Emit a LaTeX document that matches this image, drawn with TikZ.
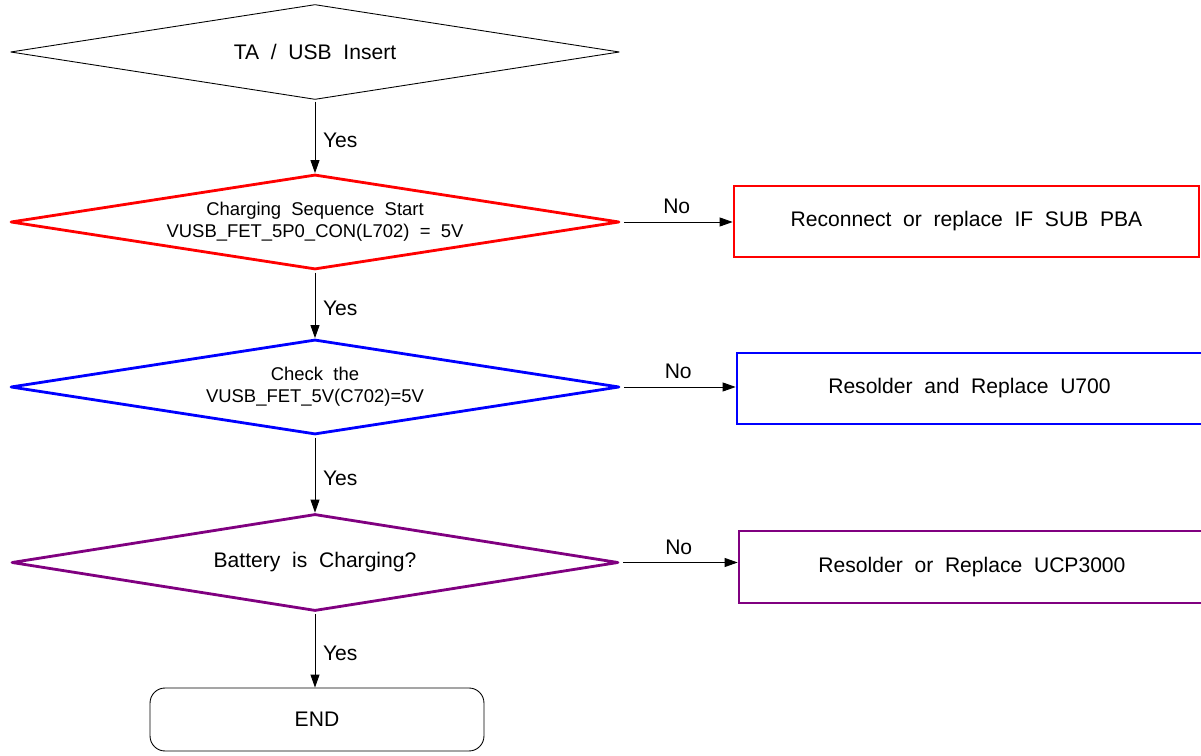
\documentclass[tikz,border=0pt]{standalone}
\usepackage{fontspec}
\setmainfont{Liberation Sans}[WordSpace=2]
\usepackage{xcolor}
\usetikzlibrary{shapes.geometric,arrows.meta}

\definecolor{chkred}{RGB}{255,0,0}
\definecolor{chkblue}{RGB}{0,0,255}
\definecolor{chkpurple}{RGB}{128,0,128}

\tikzset{
    decision/.style={draw,diamond,inner sep=0pt,aspect=6.41,minimum width=12.18cm,minimum height=1.9cm,line width=1.6pt,line join=round},
    fixbox/.style={draw,rectangle,inner sep=0pt,minimum height=1.42cm,line width=1.6pt},
    flow/.style={-{Triangle[length=0.26cm,width=0.18cm]},line width=0.5pt}
}

\begin{document}
\begin{tikzpicture}[x=0.02cm,y=-0.02cm,font=\fontsize{12}{14}\selectfont]
    \clip (0,0) rectangle (1201,756);

    \node[decision,line width=0.5pt] (insert) at (315,52) {TA / USB Insert};
    \node[decision,chkred,text=black,font=\fontsize{10.5}{12.5}\selectfont,align=center] (seq) at (315,222)
        {Charging Sequence Start\\VUSB\_FET\_5P0\_CON(L702) = 5V};
    \node[decision,chkblue,text=black,font=\fontsize{10.5}{12.5}\selectfont,align=center] (check) at (315,387)
        {Check the\\VUSB\_FET\_5V(C702)=5V};
    \node[decision,chkpurple,text=black,aspect=6.26,minimum width=12.14cm,minimum height=1.94cm] (battery) at (315,562.5) {Battery is Charging?};

    \node[fixbox,chkred,text=black,minimum width=9.3cm] (fixpba) at (966.5,221.5) {Reconnect or replace IF SUB PBA};
    \node[fixbox,chkblue,text=black,minimum width=9.3cm] (fixu700) at (969.5,388.5) {Resolder and Replace U700};
    \node[fixbox,chkpurple,text=black,minimum width=9.32cm,minimum height=1.44cm] (fixucp) at (972,567) {Resolder or Replace UCP3000};

    \node[draw,rectangle,rounded corners=0.3cm,minimum width=6.68cm,minimum height=1.26cm,line width=0.5pt] (end) at (317,719.5) {END};

    % yes path
    \foreach \from/\to in {insert/seq, seq/check, check/battery, battery/end} {
        \draw[flow,shorten <=1pt] (\from.south) -- node[right=1pt,pos=0.55] {Yes} (\from.south |- \to.north);
    }

    % no path
    \foreach \from/\to in {seq/fixpba, check/fixu700, battery/fixucp} {
        \draw[flow,shorten <=2pt] (\from.east) -- node[above=1pt] {No} (\from.east -| \to.west);
    }
\end{tikzpicture}
\end{document}
